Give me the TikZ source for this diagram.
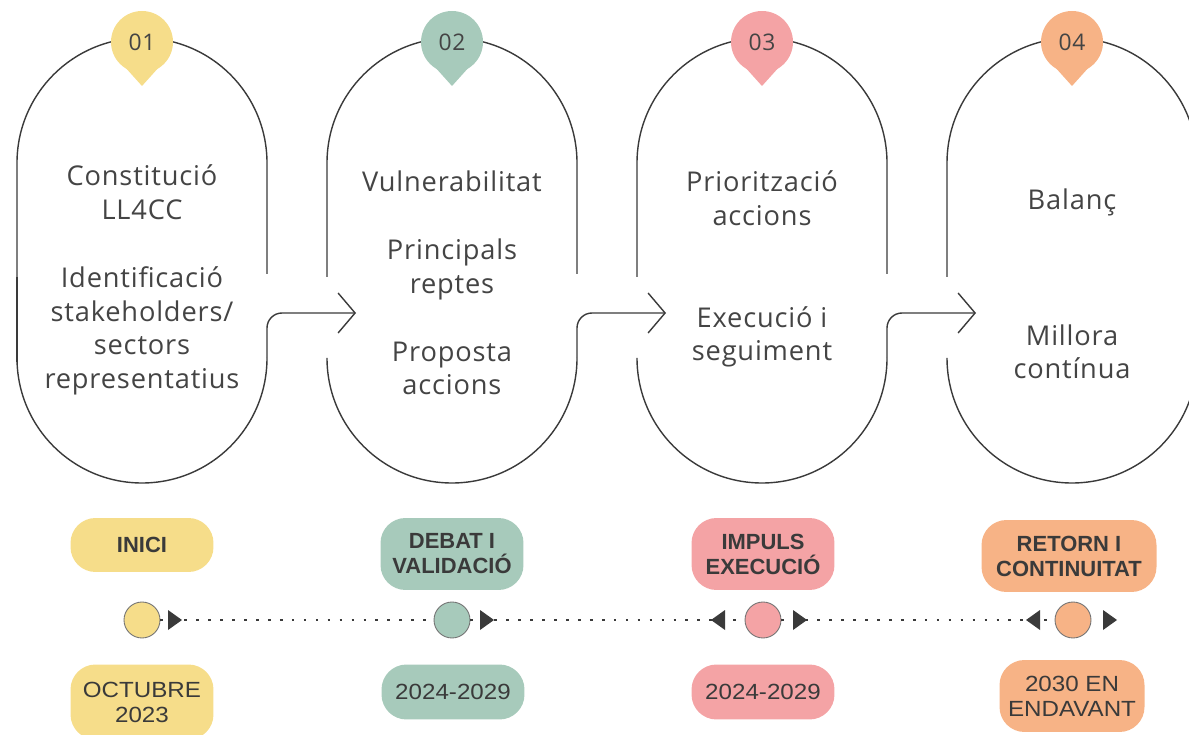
\documentclass[tikz,border=0pt]{standalone}
\usepackage{fontspec}
\setmainfont[LetterSpace=3]{Open Sans}
\newfontfamily\pillfont{Liberation Sans}
\newfontfamily\periodfont[FakeStretch=1.1]{Liberation Sans}
\usepackage{xcolor}
\usetikzlibrary{arrows.meta}
\definecolor{yel}{HTML}{F6DD8A}
\definecolor{sage}{HTML}{A7CABB}
\definecolor{rose}{HTML}{F4A3A5}
\definecolor{peach}{HTML}{F7B386}
\definecolor{ink}{HTML}{3A3A3A}
\definecolor{txt}{HTML}{444444}

\begin{document}
\begin{tikzpicture}[x=0.02cm, y=0.02cm,
    outline/.style={draw=ink, line width=0.8pt},
    flow/.style={outline, rounded corners=0.3cm, -{Straight Barb[length=0.34cm, width=0.8cm, line width=0.8pt]}},
    body/.style={text=txt, align=center, font=\fontsize{15.5}{19.3}\selectfont},
    badge/.style={text=txt, font=\fontsize{13}{14}\selectfont},
    pill/.style={rounded corners=0.5cm, minimum width=2.86cm, minimum height=1.44cm, inner sep=0pt, align=center, text=ink, font=\pillfont\bfseries\fontsize{12.5}{14.2}\selectfont},
    period/.style={pill, font=\periodfont\fontsize{12.5}{14.2}\selectfont},
    stop/.style={circle, draw=black!55, line width=0.5pt, minimum size=0.72cm, inner sep=0pt},
    dots/.style={ink, line width=1.5pt, dash pattern=on 1.5pt off 5.3pt}]
        \useasboundingbox (0,0) rectangle (1189,734);
        \foreach \n/\cx/\c in {1/142/yel, 2/452/sage, 3/762/rose, 4/1072/peach} {
            \draw[outline] (\cx-125,457) -- (\cx-125,571) arc (180:0:125) -- (\cx+125,460);
            \draw[outline] (\cx-125,372) -- (\cx-125,376) arc (180:360:125);
            \coordinate (s\n-in) at (\cx-96,421);
            \coordinate (s\n-out) at (\cx+125,376);
            \fill[\c] (\cx,692) circle (31);
            \fill[\c] (\cx-18,668) -- (\cx,648) -- (\cx+18,668) -- cycle;
            \node[badge] (num\n) at (\cx,692) {0\n};
        }
        \draw[outline] (17,457) -- (17,372);
        \draw[outline] (1197,460) -- (1197,376);
        \foreach \a/\b in {1/2, 2/3, 3/4}
            \draw[flow] (s\a-out) -- (s\a-out |- s\b-in) -- (s\b-in);

        \node[body] (txt1) at (142,454) {Constitució\\LL4CC\\[19.3pt]Identificació\\stakeholders/\\sectors\\representatius};
        \node[body] (txt2) at (452,451) {Vulnerabilitat\\[19.3pt]Principals\\reptes\\[19.3pt]Proposta\\accions};
        \node[body] (txt3) at (762,465) {Priorització\\accions\\[38.6pt]Execució i\\seguiment};
        \node[body] (txt4) at (1072,450) {Balanç\\[57.9pt]Millora\\contínua};

        \node[pill, fill=yel, minimum height=1.08cm] (phase1) at (142,189) {INICI};
        \node[pill, fill=sage] (phase2) at (452,180) {DEBAT I\\VALIDACIÓ};
        \node[pill, fill=rose] (phase3) at (763,180) {IMPULS\\EXECUCIÓ};
        \node[pill, fill=peach, minimum width=3.5cm] (phase4) at (1069,178) {RETORN I\\CONTINUITAT};

        \node[period, fill=yel, minimum height=1.5cm] (date1) at (142,32) {OCTUBRE\\2023};
        \node[period, fill=sage, minimum height=1.1cm] (date2) at (453,42) {2024-2029};
        \node[period, fill=rose, minimum height=1.1cm] (date3) at (763,42) {2024-2029};
        \node[period, fill=peach, minimum width=2.9cm] (date4) at (1072,38) {2030 EN\\ENDAVANT};

        \foreach \n/\x/\c in {1/142/yel, 2/452/sage, 3/763/rose, 4/1073/peach}
            \node[stop, fill=\c] (stop\n) at (\x,114) {};
        \foreach \a/\b in {1/2, 2/3, 3/4}
            \draw[dots] (stop\a) -- (stop\b);
        \foreach \x/\d in {168/1, 480/1, 725/-1, 793/1, 1040/-1, 1103/1}
            \fill[ink] (\x,124) -- (\x+14*\d,114) -- (\x,104) -- cycle;
\end{tikzpicture}
\end{document}
